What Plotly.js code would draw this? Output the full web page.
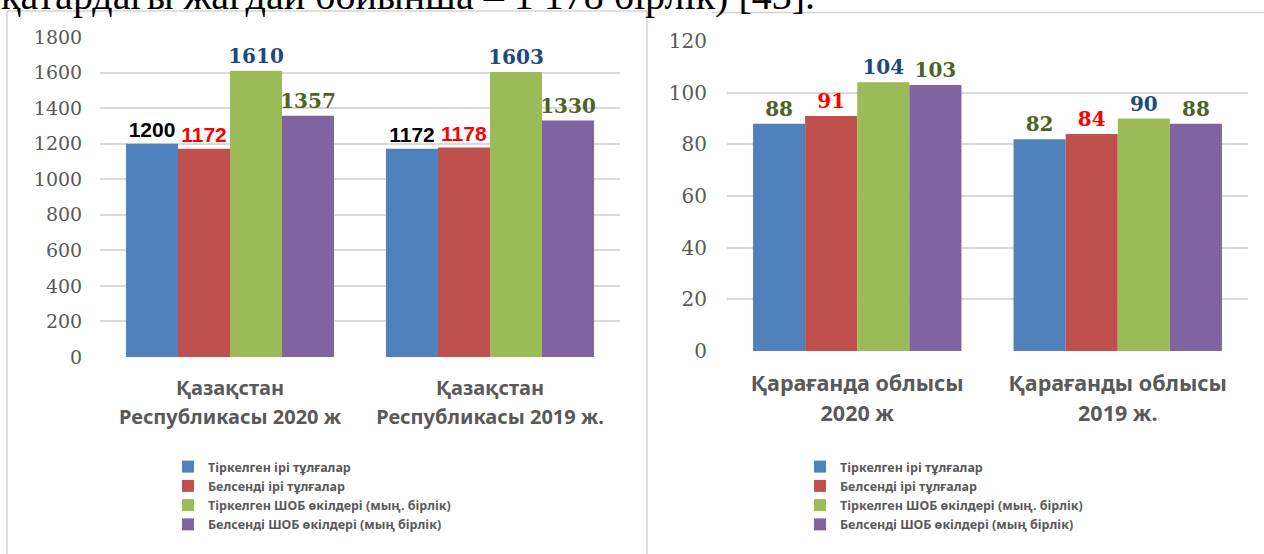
<!DOCTYPE html>
<html>
<head>
<meta charset="utf-8">
<script src="https://cdn.plot.ly/plotly-3.0.1.min.js"></script>
<style>
  html, body { margin: 0; padding: 0; background: #ffffff; }
  #chart { width: 1264px; height: 554px; }
</style>
</head>
<body>
<div id="chart"></div>
<script>
// ---------- data ----------
const seriesNames = [
  'Тіркелген ірі тұлғалар',
  'Белсенді ірі тұлғалар',
  'Тіркелген ШОБ өкілдері (мың. бірлік)',
  'Белсенді ШОБ өкілдері (мың бірлік)'
];
const kzCategories = ['Қазақстан Республикасы 2020 ж', 'Қазақстан Республикасы 2019 ж.'];
const kzTickLines = [['Қазақстан', 'Республикасы 2020 ж'], ['Қазақстан', 'Республикасы 2019 ж.']];
const kzRegisteredLarge = [1200, 1172];
const kzActiveLarge = [1172, 1178];
const kzRegisteredSme = [1610, 1603];
const kzActiveSme = [1357, 1330];

const krgCategories = ['Қарағанда облысы 2020 ж', 'Қарағанды облысы 2019 ж.'];
const krgTickLines = [['Қарағанда облысы', '2020 ж'], ['Қарағанды облысы', '2019 ж.']];
const krgRegisteredLarge = [88, 82];
const krgActiveLarge = [91, 84];
const krgRegisteredSme = [104, 90];
const krgActiveSme = [103, 88];

const kzYTicks = [0, 200, 400, 600, 800, 1000, 1200, 1400, 1600, 1800];
const krgYTicks = [0, 20, 40, 60, 80, 100, 120];

const captionText = 'қатардағы жағдай бойынша – 1 178 бірлік) [43].';

// ---------- styles ----------
const W = 1264, H = 554;
const px = v => v / W;
const py = v => 1 - v / H;

const barColors = ['#4F81BD', '#C0504D', '#9BBB59', '#8064A2'];
const serifBold = {family: 'DejaVu Serif', size: 20, weight: 'bold'};
const sansBold = {family: 'Liberation Sans', size: 21, weight: 'bold'};

const kzLabelFonts = [
  Object.assign({}, sansBold, {color: '#000000'}),
  Object.assign({}, sansBold, {color: '#FF0000'}),
  Object.assign({}, serifBold, {color: '#1F497D'}),
  Object.assign({}, serifBold, {color: '#4F6228'})
];
const krgLabelFonts = [
  Object.assign({}, serifBold, {color: '#4F6228'}),
  Object.assign({}, serifBold, {color: '#FF0000'}),
  Object.assign({}, serifBold, {color: '#1F497D'}),
  Object.assign({}, serifBold, {color: '#4F6228'})
];

const kzSeries = [kzRegisteredLarge, kzActiveLarge, kzRegisteredSme, kzActiveSme];
const krgSeries = [krgRegisteredLarge, krgActiveLarge, krgRegisteredSme, krgActiveSme];

const traces = [];
kzSeries.forEach((vals, i) => {
  traces.push({
    type: 'bar', x: kzCategories, y: vals, name: seriesNames[i],
    xaxis: 'x', yaxis: 'y', legend: 'legend',
    marker: {color: barColors[i], line: {width: 0}},
    text: vals.map(String), textposition: 'outside',
    outsidetextfont: kzLabelFonts[i], textfont: kzLabelFonts[i],
    constraintext: 'none', cliponaxis: false, hoverinfo: 'skip'
  });
});
krgSeries.forEach((vals, i) => {
  traces.push({
    type: 'bar', x: krgCategories, y: vals, name: seriesNames[i],
    xaxis: 'x2', yaxis: 'y2', legend: 'legend2',
    marker: {color: barColors[i], line: {width: 0}},
    text: vals.map(String), textposition: 'outside',
    outsidetextfont: krgLabelFonts[i], textfont: krgLabelFonts[i],
    constraintext: 'none', cliponaxis: false, hoverinfo: 'skip'
  });
});

const tickText = (lines, size) => lines.map(l => l.map(s => '<span style="font-size:' + size + 'px">' + s + '</span>').join('<br>'));

const yTickFont = {family: 'DejaVu Serif', size: 19, color: '#595959'};
const yTickFont2 = {family: 'DejaVu Serif', size: 20, color: '#595959'};
const xTickFont = {family: 'Noto Sans', size: 22.5, color: '#595959', weight: 'bold'};
const xTickFont2 = {family: 'Noto Sans', size: 23, color: '#595959', weight: 'bold'};
const legendFont = {family: 'Noto Sans', size: 12.5, color: '#595959', weight: 'bold'};

const gridColor = '#D9D9D9';
const borderColor = '#D4D4D4';

const layout = {
  width: W, height: H,
  margin: {l: 0, r: 0, t: 0, b: 0},
  paper_bgcolor: '#ffffff', plot_bgcolor: '#ffffff',
  barmode: 'group', bargap: 0.2, bargroupgap: 0,
  xaxis: {
    domain: [px(100), px(620)], anchor: 'y',
    type: 'category', tickvals: kzCategories, ticktext: tickText(kzTickLines, 20),
    tickfont: xTickFont, showgrid: false, zeroline: false, showline: false,
    ticks: 'outside', ticklen: 10, tickcolor: 'rgba(0,0,0,0)', fixedrange: true
  },
  yaxis: {
    domain: [py(357), py(37)], anchor: 'x',
    range: [0, 1800], tickvals: kzYTicks, ticktext: kzYTicks.map(String),
    tickfont: yTickFont, showgrid: true, gridcolor: gridColor, gridwidth: 2,
    zeroline: false, showline: false,
    ticks: 'outside', ticklen: 13, tickcolor: 'rgba(0,0,0,0)', fixedrange: true
  },
  xaxis2: {
    domain: [px(727), px(1248)], anchor: 'y2',
    type: 'category', tickvals: krgCategories, ticktext: tickText(krgTickLines, 21.5),
    tickfont: xTickFont2, showgrid: false, zeroline: false, showline: false,
    ticks: 'outside', ticklen: 11, tickcolor: 'rgba(0,0,0,0)', fixedrange: true
  },
  yaxis2: {
    domain: [py(351), py(41)], anchor: 'x2',
    range: [0, 120], tickvals: krgYTicks, ticktext: krgYTicks.map(String),
    tickfont: yTickFont2, showgrid: true, gridcolor: gridColor, gridwidth: 2,
    zeroline: false, showline: false,
    ticks: 'outside', ticklen: 15, tickcolor: 'rgba(0,0,0,0)', fixedrange: true
  },
  legend: {
    x: px(168), xanchor: 'left', y: py(452), yanchor: 'top',
    bgcolor: 'rgba(0,0,0,0)', font: legendFont, traceorder: 'normal',
    itemclick: false, itemdoubleclick: false
  },
  legend2: {
    x: px(800), xanchor: 'left', y: py(452), yanchor: 'top',
    bgcolor: 'rgba(0,0,0,0)', font: legendFont, traceorder: 'normal',
    itemclick: false, itemdoubleclick: false
  },
  shapes: [
    // left panel border
    {type: 'line', xref: 'paper', yref: 'paper', x0: px(7), x1: px(647), y0: py(11), y1: py(11), line: {color: borderColor, width: 1.5}},
    {type: 'line', xref: 'paper', yref: 'paper', x0: px(7), x1: px(7), y0: py(11), y1: py(560), line: {color: borderColor, width: 1.5}},
    {type: 'line', xref: 'paper', yref: 'paper', x0: px(647), x1: px(647), y0: py(11), y1: py(560), line: {color: borderColor, width: 1.5}},
    // right panel top border
    {type: 'line', xref: 'paper', yref: 'paper', x0: px(712), x1: px(1270), y0: py(12.5), y1: py(12.5), line: {color: borderColor, width: 1.5}}
  ],
  annotations: [
    {
      text: captionText, xref: 'paper', yref: 'paper',
      x: px(-1), xanchor: 'left', y: py(-4), yanchor: 'middle',
      showarrow: false, font: {family: 'Liberation Serif', size: 40, color: '#000000'}
    }
  ]
};

Plotly.newPlot('chart', traces, layout, {staticPlot: true, displayModeBar: false});
</script>
</body>
</html>
